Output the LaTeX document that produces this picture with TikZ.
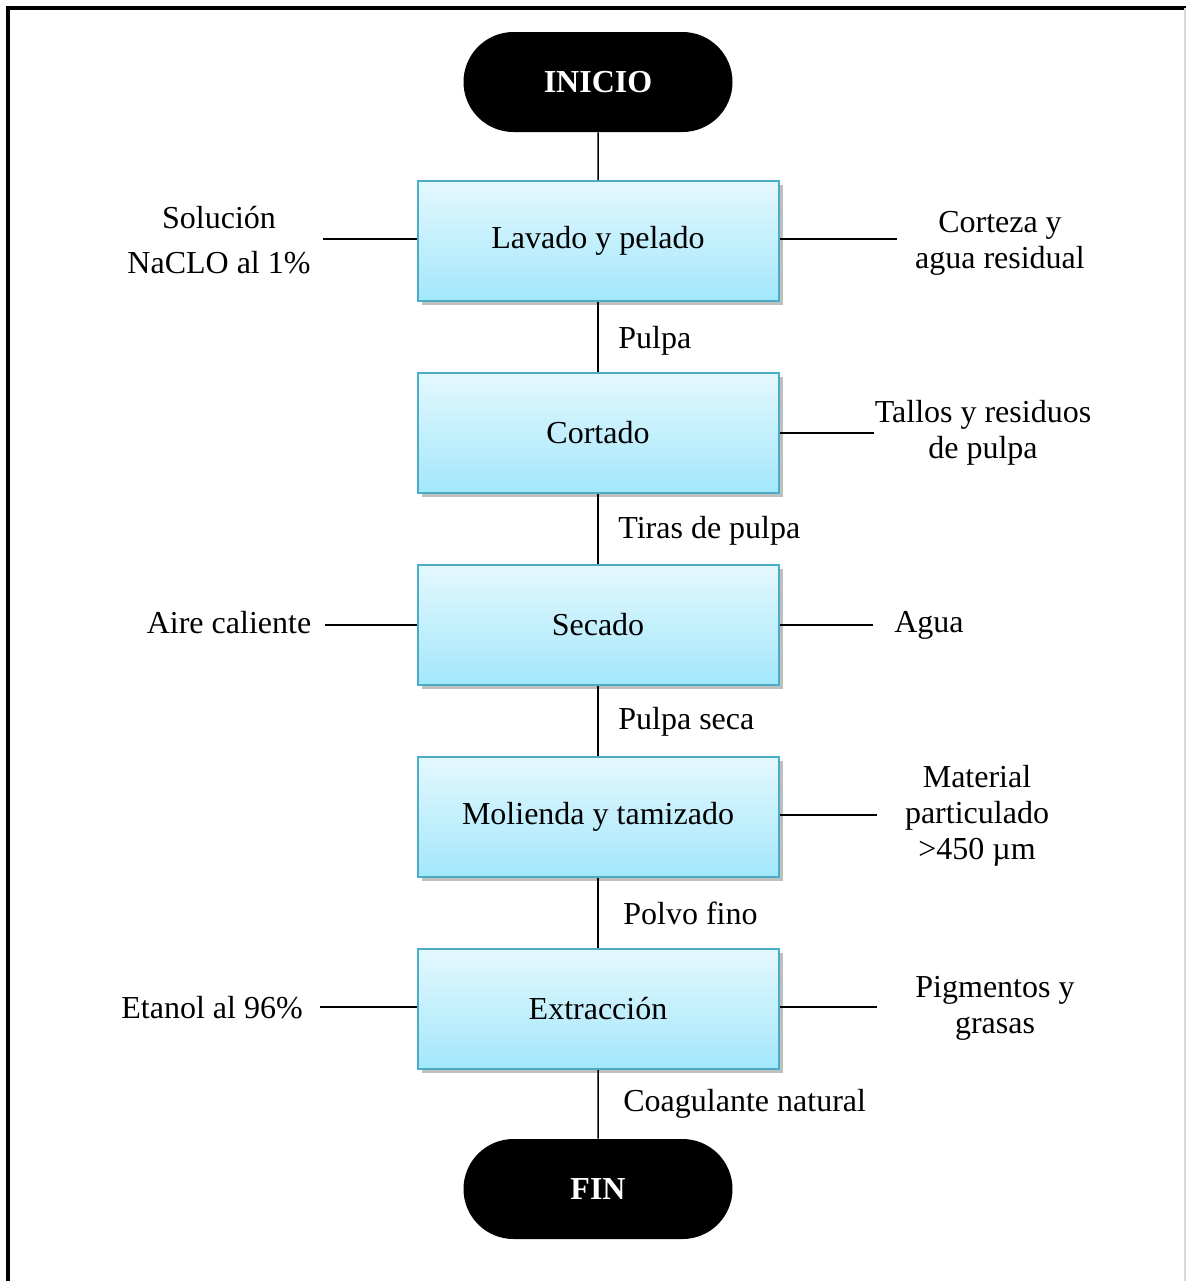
\documentclass[tikz,border=0pt]{standalone}
\usepackage{fontspec}
\setmainfont{Liberation Serif}
\usetikzlibrary{shapes.misc,shadows}
\begin{document}
\begin{tikzpicture}[x=0.5pt,y=-0.5pt,
  every node/.style={font=\fontsize{16}{18}\selectfont},
  conn/.style={line width=0.75pt,black},
  procbox/.style={rectangle,draw={rgb,255:red,75;green,172;blue,198},line width=1pt,
    top color={rgb,255:red,228;green,248;blue,254},bottom color={rgb,255:red,163;green,231;blue,251},
    minimum width=180.5pt,minimum height=60pt,inner sep=0pt,
    drop shadow={shadow xshift=2pt,shadow yshift=-2pt,fill=black,opacity=0.25}},
  term/.style={rounded rectangle,fill=black,text=white,minimum width=134.5pt,minimum height=50pt,
    inner sep=0pt,font=\fontsize{16}{18}\selectfont\bfseries},
  sidelbl/.style={align=center,inner sep=0pt},
  flowlbl/.style={anchor=west,inner sep=0pt}]
\useasboundingbox (0,0) rectangle (1186,1281);
% page border
\draw[line width=2pt] (8,1281) -- (8,8) -- (1186,8);
\draw[line width=0.6pt,black!15] (1185,8) -- (1185,1281);

\node[term] (ini) at (598,82) {INICIO};
\node[procbox] (b1) at (598,241) {Lavado y pelado};
\node[procbox] (b2) at (598,433) {Cortado};
\node[procbox] (b3) at (598,625) {Secado};
\node[procbox] (b4) at (598,817) {Molienda y tamizado};
\node[procbox] (b5) at (598,1009) {Extracción};
\node[term] (fin) at (598,1189) {FIN};

\draw[conn] (ini) -- (b1);
\draw[conn] (b1) -- (b2);
\draw[conn] (b2) -- (b3);
\draw[conn] (b3) -- (b4);
\draw[conn] (b4) -- (b5);
\draw[conn] (b5) -- (fin);

% flow labels
\node[flowlbl] (f1) at (618,341) {Pulpa};
\node[flowlbl] (f2) at (618,531) {Tiras de pulpa};
\node[flowlbl] (f3) at (618,722) {Pulpa seca};
\node[flowlbl] (f4) at (623,913) {Polvo fino};
\node[flowlbl] (f5) at (623,1104) {Coagulante natural};

% side coordinates
\coordinate (l1) at (323,239);
\coordinate (r1) at (897,239);
\coordinate (r2) at (874,433);
\coordinate (l3) at (325,625);
\coordinate (r3) at (873,625);
\coordinate (r4) at (877,815);
\coordinate (l5) at (320,1007);
\coordinate (r5) at (877,1007);

\draw[conn] (l1) -- (l1 -| b1.west);
\draw[conn] (b1.east |- r1) -- (r1);
\draw[conn] (b2.east |- r2) -- (r2);
\draw[conn] (l3) -- (l3 -| b3.west);
\draw[conn] (b3.east |- r3) -- (r3);
\draw[conn] (b4.east |- r4) -- (r4);
\draw[conn] (l5) -- (l5 -| b5.west);
\draw[conn] (b5.east |- r5) -- (r5);

% side labels
\node[sidelbl] (s1) at (219,240) {Solución\\[4.5pt]NaCLO al 1\%};
\node[sidelbl] (s2) at (1000,243) {Corteza y\\agua residual};
\node[sidelbl] (s3) at (983,433) {Tallos y residuos\\de pulpa};
\node[sidelbl] (s4) at (229,623) {Aire caliente};
\node[sidelbl] (s5) at (929,625) {Agua};
\node[sidelbl] (s6) at (977,816) {Material\\particulado\\>450 µm};
\node[sidelbl] (s7) at (212,1008) {Etanol al 96\%};
\node[sidelbl] (s8) at (995,1008) {Pigmentos y\\grasas};
\end{tikzpicture}
\end{document}
